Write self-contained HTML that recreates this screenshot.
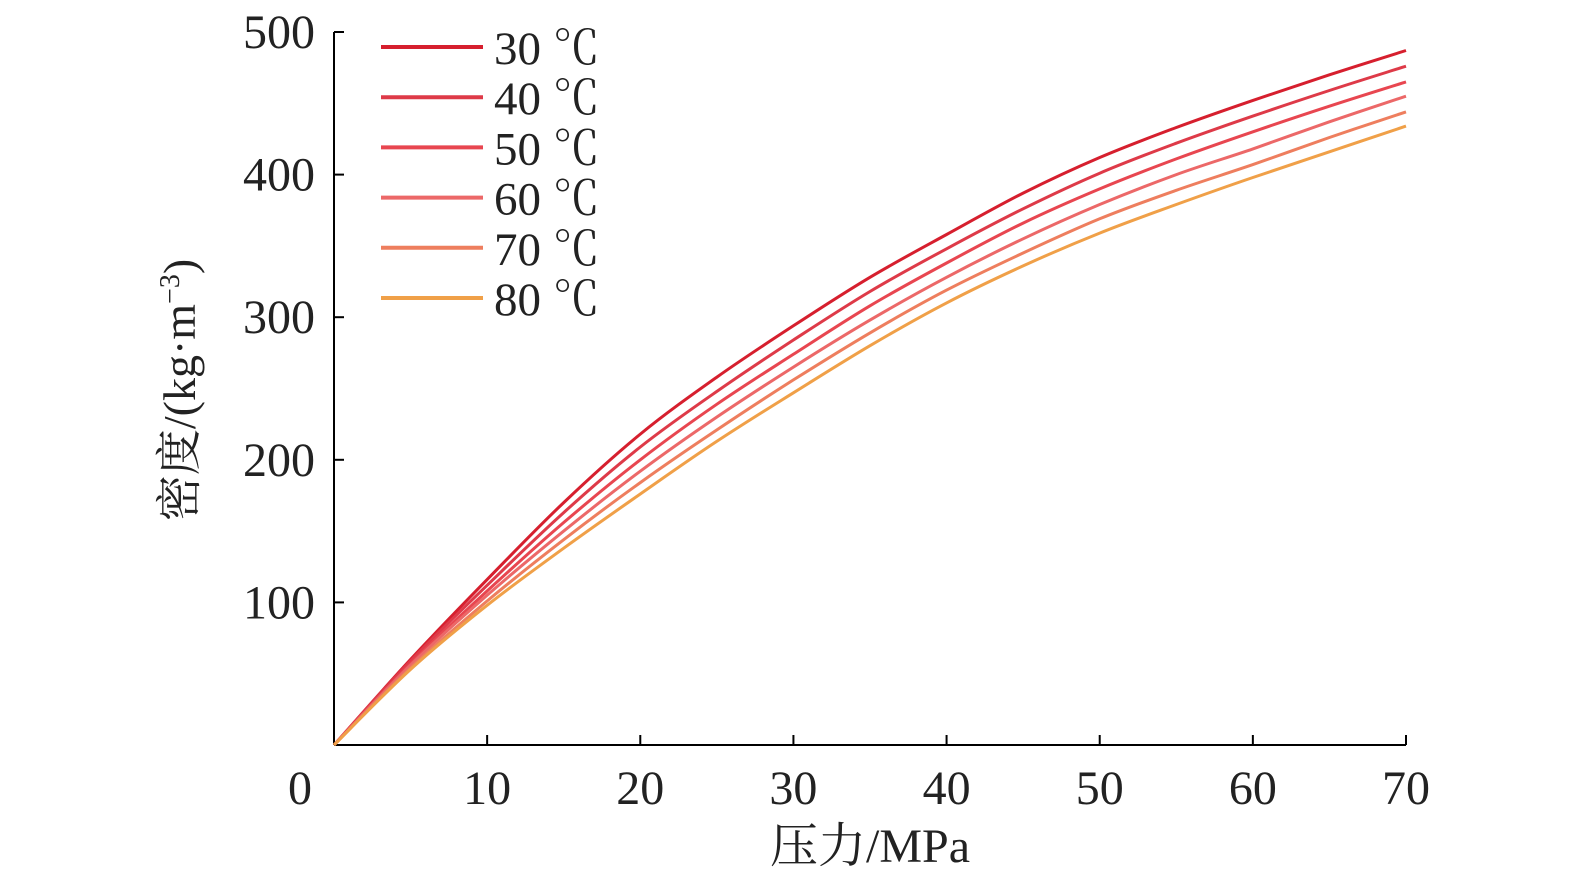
<!DOCTYPE html>
<html><head><meta charset="utf-8"><style>
html,body{margin:0;padding:0;background:#fff;overflow:hidden;width:1575px;height:886px;}
svg{display:block;}
svg text{font-family:"Liberation Serif","Noto Serif CJK SC",serif;fill:#222;}
</style></head><body>
<svg id="chart" width="1575" height="886" viewBox="0 0 1575 886" xmlns="http://www.w3.org/2000/svg">
<g id="axes"></g>
<g id="series"></g>
<g id="legend"></g>
<text transform="translate(195,390) rotate(-90)" text-anchor="middle" font-size="46">密度/(kg·m<tspan font-size="28" dy="-16">−3</tspan><tspan dy="16">)</tspan></text>
<text x="870" y="862" text-anchor="middle" font-size="48">压力/MPa</text>
</svg>
<script>
const pressures=[0,5,10,15,20,25,30,35,40,45,50,55,60,65,70];
const labels=["30 ℃","40 ℃","50 ℃","60 ℃","70 ℃","80 ℃"];
const s30=[0,60,116,170,218,258,294,328,358,387,412,433,452,470,487];
const s40=[0,59,112,163,209,248,284,318,348,376,401,422,441,459,476];
const s50=[0,57,108,156,200,239,274,308,338,366,390,411,430,448,465];
const s60=[0,56,105,150,192,230,265,298,328,355,379,400,418,437,455];
const s70=[0,54,101,144,184,221,256,289,319,345,369,389,407,426,444];
const s80=[0,53,98,138,176,213,247,280,310,336,359,379,398,416,434];
const xTicks=[0,10,20,30,40,50,60,70];
const yTicks=[100,200,300,400,500];
const series=[s30,s40,s50,s60,s70,s80];
const colors=["#d61f2e","#de3a48","#e84650","#ec6868","#ee7e5e","#f0a048"];
const NS="http://www.w3.org/2000/svg";
const X=v=>334+v*(1406-334)/70;
const Y=v=>745-v*(745-32)/500;
function mk(t,a,p){const e=document.createElementNS(NS,t);for(const k in a)e.setAttribute(k,a[k]);p.appendChild(e);return e;}
const ax=document.getElementById('axes');
let l=mk('line',{x1:334,y1:32,x2:334,y2:745,stroke:'#000','stroke-width':2},ax);


l=mk('line',{x1:334,y1:745,x2:1406,y2:745,stroke:'#000','stroke-width':2},ax);


xTicks.forEach(v=>{
  const t=mk('line',{x1:X(v),y1:745,x2:X(v),y2:735,stroke:'#000','stroke-width':2},ax);
  
  
  const tx=mk('text',{x:v===0?300:X(v),y:804,'text-anchor':'middle','font-size':48},ax);
  tx.textContent=v;
  
  
});
yTicks.forEach(v=>{
  const t=mk('line',{x1:334,y1:Y(v),x2:344,y2:Y(v),stroke:'#000','stroke-width':2},ax);
  
  
  const tx=mk('text',{x:315,y:Y(v)+16,'text-anchor':'end','font-size':48},ax);
  tx.textContent=v;
  
  
});
function smooth(pts){
  let d='M'+pts[0][0].toFixed(1)+','+pts[0][1].toFixed(1);
  for(let i=0;i<pts.length-1;i++){
    const p0=pts[i-1]||pts[i],p1=pts[i],p2=pts[i+1],p3=pts[i+2]||p2;
    const c1=[p1[0]+(p2[0]-p0[0])/6,p1[1]+(p2[1]-p0[1])/6];
    const c2=[p2[0]-(p3[0]-p1[0])/6,p2[1]-(p3[1]-p1[1])/6];
    d+='C'+c1.map(n=>n.toFixed(1))+' '+c2.map(n=>n.toFixed(1))+' '+p2.map(n=>n.toFixed(1));
  }
  return d;
}
const sg=document.getElementById('series');
series.forEach((s,i)=>{
  const pts=s.map((v,j)=>[X(pressures[j]),Y(v)]);
  const p=mk('path',{d:smooth(pts),fill:'none',stroke:colors[i],'stroke-width':3},sg);
  
  
});
const lg=document.getElementById('legend');
labels.forEach((lab,i)=>{
  const y=47+i*50.2;
  const ln=mk('line',{x1:381,y1:y,x2:483,y2:y,stroke:colors[i],'stroke-width':4},lg);
  
  
  const tx=mk('text',{x:494,y:y+17,'font-size':47},lg);
  tx.textContent=lab;
  
  
});
</script>
</body></html>
